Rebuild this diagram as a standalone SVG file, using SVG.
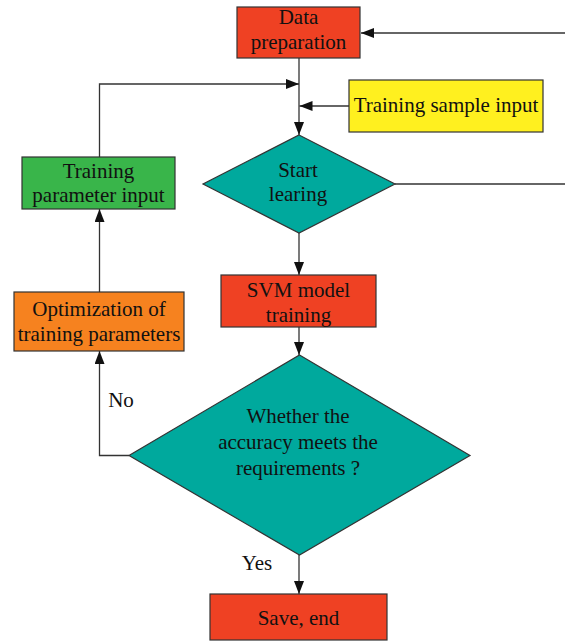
<svg xmlns="http://www.w3.org/2000/svg" width="565" height="641" viewBox="0 0 565 641">
<defs>
<style>
.n{stroke:#333;stroke-width:1.2}
.t{font-family:"Liberation Serif","Times New Roman",serif;font-size:21px;fill:#111;text-anchor:middle}
.c{fill:none;stroke:#333;stroke-width:1.3}
</style>
<marker id="ah" markerUnits="userSpaceOnUse" markerWidth="14" markerHeight="11" refX="13" refY="5" orient="auto">
<path d="M0,0 L13,5 L0,10 z" fill="#111"/>
</marker>
</defs>
<rect width="565" height="641" fill="#fff"/>
<g id="connectors">
<path class="c" d="M565,33 H361" marker-end="url(#ah)"/>
<path class="c" d="M299,58 V135" marker-end="url(#ah)"/>
<path class="c" d="M99.5,157 V84 H299" marker-end="url(#ah)"/>
<path class="c" d="M349,106 H299.5" marker-end="url(#ah)"/>
<path class="c" d="M395,184 H565"/>
<path class="c" d="M299,233 V275" marker-end="url(#ah)"/>
<path class="c" d="M299,327 V355" marker-end="url(#ah)"/>
<path class="c" d="M129,455.5 H99.5 V351" marker-end="url(#ah)"/>
<path class="c" d="M99.5,292 V209" marker-end="url(#ah)"/>
<path class="c" d="M299,555 V594" marker-end="url(#ah)"/>
</g>
<g id="data-preparation">
<rect class="n" x="237" y="7" width="123" height="51" fill="#EF4123"/>
<text class="t" x="298.5" y="24">Data</text>
<text class="t" x="298.5" y="49">preparation</text>
</g>
<g id="training-sample-input">
<rect class="n" x="349" y="80" width="194" height="52" fill="#FFF01F"/>
<text class="t" x="446" y="112">Training sample input</text>
</g>
<g id="training-parameter-input">
<rect class="n" x="22" y="157" width="153" height="52" fill="#39B54A"/>
<text class="t" x="98.5" y="178">Training</text>
<text class="t" x="98.5" y="202">parameter input</text>
</g>
<g id="start-learing">
<polygon class="n" points="299,135 395,184 299,233 203,184" fill="#00A99D"/>
<text class="t" x="298" y="177">Start</text>
<text class="t" x="298" y="201">learing</text>
</g>
<g id="optimization">
<rect class="n" x="14" y="292" width="170" height="59" fill="#F6821F"/>
<text class="t" x="99" y="316">Optimization of</text>
<text class="t" x="99" y="341">training parameters</text>
</g>
<g id="svm-training">
<rect class="n" x="221" y="275" width="155" height="52" fill="#EF4123"/>
<text class="t" x="298.5" y="297">SVM model</text>
<text class="t" x="298.5" y="322">training</text>
</g>
<g id="accuracy-check">
<polygon class="n" points="299.5,355 470,455.5 299.5,555 129,455.5" fill="#00A99D"/>
<text class="t" x="298" y="423">Whether the</text>
<text class="t" x="298" y="449">accuracy meets the</text>
<text class="t" x="298" y="475">requirements ?</text>
</g>
<g id="save-end">
<rect class="n" x="210" y="594" width="177" height="46" fill="#EF4123"/>
<text class="t" x="298.5" y="625">Save, end</text>
</g>
<g id="labels">
<text class="t" x="121" y="407">No</text>
<text class="t" x="257" y="570">Yes</text>
</g>
</svg>
